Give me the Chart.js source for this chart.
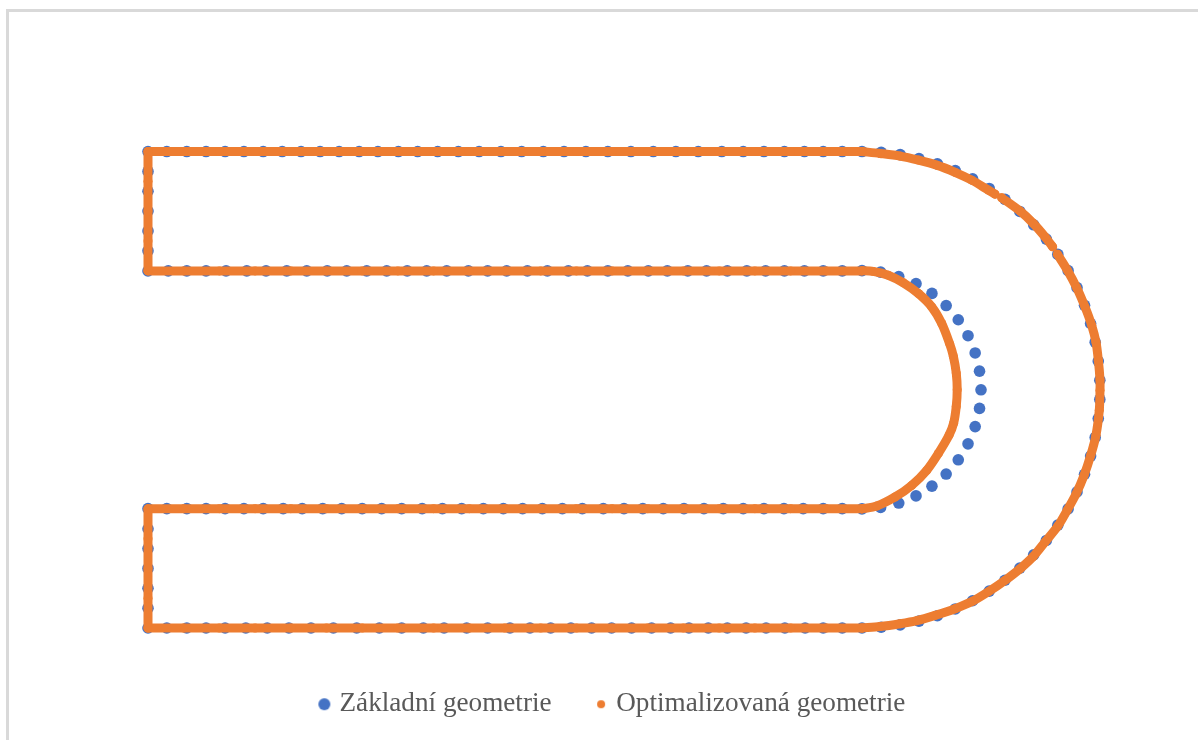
<!DOCTYPE html>
<html>
<head>
<meta charset="utf-8">
<script src="https://cdn.jsdelivr.net/npm/chart.js@4/dist/chart.umd.min.js"></script>
<style>
html,body{margin:0;padding:0;background:#fff;width:1198px;height:740px;overflow:hidden}
#frame{position:absolute;left:6px;top:9px;right:0;bottom:0;border-left:3px solid #d9d9d9;border-top:3px solid #d9d9d9}
#c{position:absolute;left:0;top:0;filter:blur(0.6px)}
</style>
</head>
<body>
<div id="frame"></div>
<canvas id="c" width="1198" height="740"></canvas>
<script>
const seriesNames = ['Základní geometrie', 'Optimalizovaná geometrie'];

// Základní geometrie
const baseOuterTopX = [-300,-292.1,-283.7,-275.6,-267.6,-259.7,-251.6,-243.6,-235.7,-227.7,-219.7,-211.3,-203.4,-194.8,-186.7,-178.3,-169.6,-160.9,-151.7,-143,-133.9,-125.2,-116,-106.8,-97.1,-87.7,-78.2,-68.8,-58.9,-49.9,-41.2,-32.6,-24.2,-16.3,-8.3];
const baseInnerTopX = [-300,-291.5,-283.7,-275.6,-267.2,-258.5,-250.4,-241.7,-233.3,-224.7,-216.5,-208.1,-199.7,-191.1,-182.9,-174.5,-165.4,-157.3,-149.3,-140.6,-132.2,-123.4,-115.4,-106.8,-98.4,-89.8,-81.8,-73.2,-65.3,-56.6,-48.4,-40.5,-32.6,-24.2,-16.3,-8.3];
const baseInnerBottomX = [-300,-292.1,-283.7,-275.6,-267.6,-259.7,-251.6,-243.2,-235.2,-226.6,-218.6,-210,-201.8,-193.4,-184.8,-176.3,-168.2,-159.1,-150.7,-142.6,-134.3,-125.9,-117.5,-108.7,-100,-92.1,-83.5,-74.8,-66.4,-58.3,-49.9,-41.2,-32.8,-24.7,-16.3,-8.3];
const baseOuterBottomX = [-300,-292.1,-283.7,-275.6,-267.6,-258.9,-249.9,-240.8,-231.5,-222.1,-212.3,-202.8,-193.4,-184.3,-175.6,-166.1,-157.3,-147.9,-139.5,-130.8,-122.3,-113.6,-105.2,-96.8,-88.4,-80.4,-72.7,-64.6,-56.6,-48.7,-40.3,-32.4,-23.9,-16.3,-8.3];
const baseOuterArcX = [0,8.05,16.04,23.93,31.67,39.19,46.47,53.45,60.07,66.32,72.13,77.45,82.27,86.6,90.34,93.5,96.05,97.98,99.27,99.92,99.92,99.27,97.98,96.05,93.5,90.34,86.6,82.27,77.45,72.13,66.32,60.07,53.45,46.47,39.19,31.67,23.93,16.04,8.05,0];
const baseOuterArcY = [100,99.68,98.7,97.09,94.85,92,88.55,84.52,79.95,74.85,69.26,63.25,56.82,50,42.87,35.46,27.82,20,12.05,4.03,-4.03,-12.05,-20,-27.82,-35.46,-42.87,-50,-56.82,-63.25,-69.26,-74.85,-79.95,-84.52,-88.55,-92,-94.85,-97.09,-98.7,-99.68,-100];
const baseInnerArcX = [0,7.82,15.45,22.7,29.39,35.36,40.45,44.55,47.55,49.38,50,49.38,47.55,44.55,40.45,35.36,29.39,22.7,15.45,7.82,0];
const baseInnerArcY = [50,49.38,47.55,44.55,40.45,35.36,29.39,22.7,15.45,7.82,0,-7.82,-15.45,-22.7,-29.39,-35.36,-40.45,-44.55,-47.55,-49.38,-50];
const baseTopSideY = [91.67,83.33,75,66.67,58.33];
const baseBottomSideY = [-58.33,-66.67,-75,-83.33,-91.67];

// Optimalizovaná geometrie (null = break in the outline)
const optRailX = [-300,-285,-270,-255,-240,-225,-210,-195,-180,-165,-150,-135,-120,-105,-90,-75,-60,-45,-30,-15,0];
const optOuterArcX = [0,7.6,16,23.7,31.4,39.1,46.1,53.1,55.9,null,58.7,66.4,72,76.9,80.1,null,82.1,86.3,90.2,93.7,96.5,98.3,99.3,100,100,99.7,98.3,96.1,93.3,89.9,86.3,82.3,76.9,72,66.4,60.1,53.4,46.4,39.1,30.7,23,16,7.6,0];
const optOuterArcY = [100,99.2,98.1,96.4,94.3,91.3,88,83.8,82.1,null,80.6,75,69.8,64.2,60,null,56.9,50.2,42.9,34.8,27.1,20.1,12.4,4.2,-0.2,-8.6,-19.1,-27.5,-35.9,-43.8,-50.4,-57.2,-63.9,-69.9,-75.1,-80,-84.6,-88.8,-91.9,-94.7,-96.9,-98.2,-99.4,-100];
const optInnerArcX = [0,6.2,13.9,20.9,27.2,32.1,36.6,38.5,39.6,40,39.6,38.4,36.8,33.5,29.3,23.7,17.4,11,4.7,0];
const optInnerArcY = [-50,-48.8,-45,-40.1,-33.8,-26.7,-19,-14,-7,0,7,14,19.4,27.8,34.8,40.4,44.9,48.1,49.7,50];
const optSideTopY = [50,62.5,75,87.5,100];
const optSideBottomY = [-100,-87.5,-75,-62.5,-50];

const sideX = -300, outerY = 100, innerY = 49.9;

const pts = (xs, ys) => xs.map((x, i) => ({x: x === null ? NaN : x, y: ys[i] === null ? NaN : ys[i]}));
const rail = (xs, y) => xs.map(x => ({x, y}));
const side = ys => ys.map(y => ({x: sideX, y}));
const rev = a => a.slice().reverse();

const baseData = [
  ...rail(baseOuterTopX, outerY),
  ...pts(baseOuterArcX, baseOuterArcY),
  ...rail(rev(baseOuterBottomX), -outerY),
  ...side(baseBottomSideY),
  ...rail(baseInnerBottomX, -innerY),
  ...pts(rev(baseInnerArcX), rev(baseInnerArcY)),
  ...rail(rev(baseInnerTopX), innerY),
  ...side(baseTopSideY)
];
const optData = [
  ...rail(optRailX, outerY),
  ...pts(optOuterArcX, optOuterArcY),
  ...rail(rev(optRailX), -outerY),
  ...side(optSideBottomY),
  ...rail(optRailX, -innerY),
  ...pts(optInnerArcX, optInnerArcY),
  ...rail(rev(optRailX), innerY),
  ...side(optSideTopY)
];

function dot(color, r) {
  const c = document.createElement('canvas');
  c.width = c.height = 2 * r + 2;
  const g = c.getContext('2d');
  g.fillStyle = color;
  g.beginPath();
  g.arc(r + 1, r + 1, r, 0, Math.PI * 2);
  g.fill();
  return c;
}
const colors = ['#4472C4', '#ED7D31'];
const legendDots = [dot(colors[0], 6), dot(colors[1], 4)];

new Chart(document.getElementById('c'), {
  type: 'scatter',
  data: {
    datasets: [
      {label: seriesNames[0], data: baseData, showLine: false, order: 2,
       backgroundColor: colors[0], borderColor: colors[0], pointRadius: 5.8, pointBorderWidth: 0, pointHoverRadius: 6},
      {label: seriesNames[1], data: optData, showLine: true, spanGaps: false, order: 1, tension: 0.3,
       backgroundColor: colors[1], borderColor: colors[1], borderWidth: 9, borderCapStyle: 'round', borderJoinStyle: 'round',
       pointRadius: 4.5, pointBorderWidth: 0, pointHoverRadius: 4}
    ]
  },
  options: {
    responsive: false,
    animation: false,
    events: [],
    layout: {padding: {left: 100.4, right: 70.2, top: 103.9, bottom: 12.2}},
    scales: {
      x: {type: 'linear', display: false, min: -320, max: 111.68},
      y: {type: 'linear', display: false, min: -106.12, max: 120}
    },
    plugins: {
      tooltip: {enabled: false},
      title: {display: false},
      legend: {
        display: true,
        position: 'bottom',
        labels: {
          usePointStyle: true,
          boxWidth: 3,
          padding: 48,
          color: '#595959',
          font: {family: '"Liberation Serif", serif', size: 27.2},
          generateLabels: chart => chart.data.datasets.map((d, i) => ({
            text: d.label, datasetIndex: i, pointStyle: legendDots[i], fontColor: '#595959',
            hidden: false, lineWidth: 0
          }))
        }
      }
    }
  }
});
</script>
</body>
</html>
